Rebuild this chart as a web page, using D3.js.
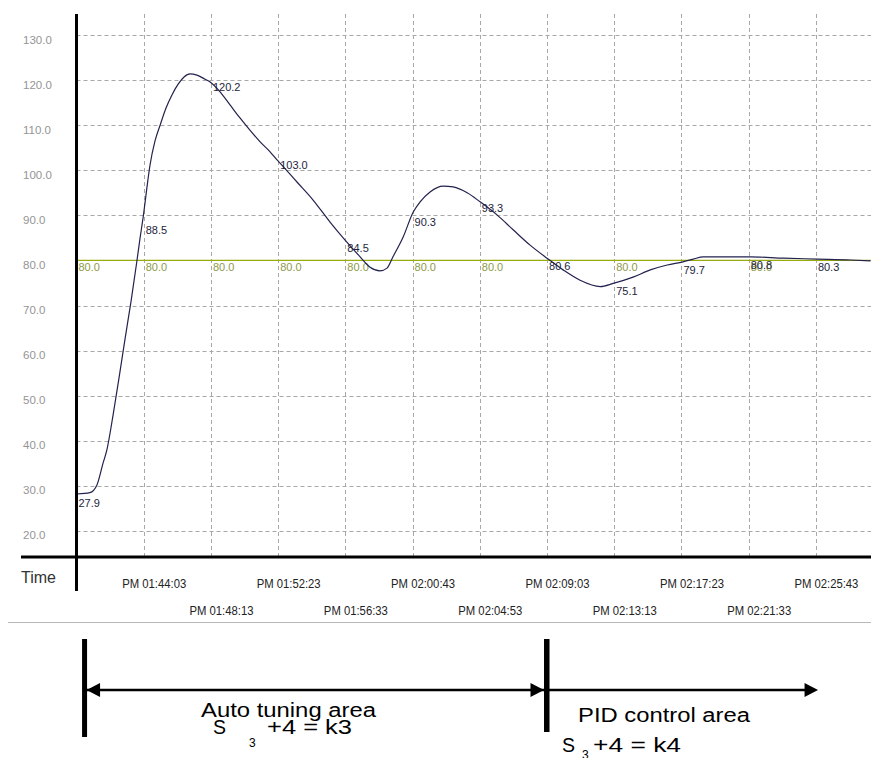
<!DOCTYPE html>
<html><head><meta charset="utf-8">
<script src="https://cdn.jsdelivr.net/npm/d3@7"></script>
<style>
html,body{margin:0;padding:0;background:#fff;}
svg{display:block;font-family:"Liberation Sans",Arial,sans-serif;}
</style></head>
<body>
<svg id="chart" width="871" height="758"></svg>
<script>
// ---------- data ----------
const startClock = "PM 01:39:53";
const tickLabels = ["PM 01:44:03","PM 01:48:13","PM 01:52:23","PM 01:56:33","PM 02:00:43","PM 02:04:53",
                    "PM 02:09:03","PM 02:13:13","PM 02:17:23","PM 02:21:33","PM 02:25:43"];
const yTicks = [20,30,40,50,60,70,80,90,100,110,120,130];
// process value: elapsed seconds from start, value
const pvSeconds = [2,50,76,99,113,136,158,180,203,224,236,250,262,273,292,311,333,355,378,400,422,448,478,497,
  534,571,608,645,683,720,746,757,820,880,943,999,1055,1092,1129,1155,1177,1215,1252,1278,1315,1364,1401,1453,1501,
  1564,1624,1687,1750,1810,1873,1948,1996,2070,2134,2197,2256,2294,2331,2506,2630,2756,2879,2953];
const pvValues = [28.2,28.5,30.2,35.1,38.0,45.7,53.9,62.4,71.0,79.6,84.8,90.5,96.2,101.0,106.5,110.0,113.8,116.7,119.1,120.7,121.4,121.1,120.2,119.6,
  117.4,114.5,111.6,108.9,106.3,104.1,102.3,101.6,97.4,93.4,88.5,84.5,80.8,78.5,77.7,78.3,80.8,85.2,90.7,93.0,95.2,96.5,96.3,95.0,93.0,
  90.1,86.8,83.4,80.5,77.9,75.6,74.2,74.9,76.3,77.9,79.0,79.7,80.3,80.8,80.8,80.5,80.3,80.1,79.9];
// value labels at each grid time (index 0 = start)
const pvLabelValues = [27.9,88.5,120.2,103.0,84.5,90.3,93.3,80.6,75.1,79.7,80.8,80.3];
const svValue = 80.0;
const svLabelIdx = [0,1,2,3,4,5,6,8,10];
// annotation times
const autoStart = "PM 01:40:23";
const pidStart = "PM 02:09:03";
const arrowEnd = "PM 02:25:51";

// ---------- scales ----------
const parse = d3.timeParse("%p %I:%M:%S");
const t0 = parse(startClock);
const addSec = s => new Date(t0.getTime() + s*1000);
const x = d3.scaleTime().domain([t0, addSec(2955)]).range([76.5, 871]);
const y = d3.scaleLinear().domain([14.23, 134.66]).range([557, 14]);

const svg = d3.select("#chart");
const tickTimes = tickLabels.map(parse);
const gridTimes = [t0].concat(tickTimes);

// grid
const grid = svg.append("g").attr("stroke","#a8a8a8").attr("stroke-width",1).attr("stroke-dasharray","4,3");
grid.selectAll("line.h").data(yTicks).join("line").attr("class","h")
  .attr("x1",x.range()[0]).attr("x2",x.range()[1])
  .attr("y1",d=>Math.round(y(d))+0.5).attr("y2",d=>Math.round(y(d))+0.5);
grid.selectAll("line.v").data(tickTimes).join("line").attr("class","v")
  .attr("x1",d=>Math.round(x(d))+0.5).attr("x2",d=>Math.round(x(d))+0.5)
  .attr("y1",y.range()[1]).attr("y2",y.range()[0]);

// setpoint line
svg.append("line").attr("x1",x.range()[0]).attr("x2",x.range()[1])
  .attr("y1",y(svValue)).attr("y2",y(svValue)).attr("stroke","#9aab10").attr("stroke-width",1.3);

// setpoint labels
svg.append("g").selectAll("text").data(svLabelIdx).join("text")
  .attr("x",i=>x(gridTimes[i])+2).attr("y",y(svValue)+11)
  .attr("font-size",11).attr("fill","#8e9a48").text(svValue.toFixed(1));

// PV line
const pts = pvSeconds.map((s,i)=>[addSec(s), pvValues[i]]);
svg.append("path").datum(pts)
  .attr("d", d3.line().x(d=>x(d[0])).y(d=>y(d[1])).curve(d3.curveMonotoneX))
  .attr("fill","none").attr("stroke","#22224e").attr("stroke-width",1.2);

// PV labels
svg.append("g").selectAll("text").data(pvLabelValues).join("text")
  .attr("x",(d,i)=>x(gridTimes[i])+2).attr("y",d=>y(d)+12)
  .attr("font-size",11).attr("fill","#1e1e3c").text(d=>d.toFixed(1));

// y axis labels
const yAxis = svg.append("g").attr("transform","translate(76.5,0)")
  .call(d3.axisLeft(y).tickValues(yTicks).tickFormat(d3.format(".1f")).tickSize(0));
yAxis.select(".domain").remove();
yAxis.selectAll("text").attr("x",-53.5).attr("dy",null).attr("y",8)
  .attr("text-anchor","start").attr("font-size",11.5).attr("fill","#959595")
  .attr("font-family","Liberation Sans, Arial, sans-serif");

// x axis labels
const xAxis = svg.append("g").attr("transform","translate(0,557)")
  .call(d3.axisBottom(x).tickValues(tickTimes).tickFormat((d,i)=>tickLabels[i]).tickSize(0));
xAxis.select(".domain").remove();
xAxis.selectAll("text").attr("dy",null)
  .attr("y",(d,i)=> i%2===0 ? 31 : 58).attr("x",10)
  .attr("font-size",12).attr("fill","#222").attr("textLength",64).attr("lengthAdjust","spacingAndGlyphs")
  .attr("font-family","Liberation Sans, Arial, sans-serif");

// axis lines
svg.append("line").attr("x1",21).attr("x2",871).attr("y1",557).attr("y2",557).attr("stroke","#000").attr("stroke-width",3);
svg.append("line").attr("x1",76.5).attr("x2",76.5).attr("y1",14).attr("y2",591).attr("stroke","#000").attr("stroke-width",3);
svg.append("text").attr("x",21).attr("y",583).attr("font-size",16).attr("fill","#333").text("Time");
// separator
svg.append("line").attr("x1",8).attr("x2",871).attr("y1",622.5).attr("y2",622.5).attr("stroke","#b8b8b8").attr("stroke-width",1);

// ---------- annotations ----------
const xa = x(parse(autoStart)), xp = x(parse(pidStart)), xe = x(parse(arrowEnd));
const ay = 690;
svg.append("rect").attr("x",xa-2.5).attr("y",639).attr("width",5).attr("height",98).attr("fill","#000");
svg.append("rect").attr("x",xp-3).attr("y",639).attr("width",5.5).attr("height",93).attr("fill","#000");
svg.append("line").attr("x1",xa).attr("x2",xe-8).attr("y1",ay).attr("y2",ay).attr("stroke","#000").attr("stroke-width",2.5);
const head = (tip, dir) => `M${tip},${ay} L${tip-dir*13.5},${ay-7} L${tip-dir*13.5},${ay+7} Z`;
svg.append("path").attr("d",head(xa+2,-1)).attr("fill","#000");
svg.append("path").attr("d",head(xp-3,1)).attr("fill","#000");
svg.append("path").attr("d",head(xe,1)).attr("fill","#000");

const fs = 20;
svg.append("text").attr("x",201).attr("y",717).attr("font-size",fs).attr("textLength",175).attr("lengthAdjust","spacingAndGlyphs").text("Auto tuning area");
svg.append("text").attr("x",213).attr("y",734).attr("font-size",fs).attr("textLength",13).attr("lengthAdjust","spacingAndGlyphs").text("S");
svg.append("text").attr("x",249).attr("y",747).attr("font-size",12).text("3");
svg.append("text").attr("x",267).attr("y",734).attr("font-size",fs).attr("textLength",85).attr("lengthAdjust","spacingAndGlyphs").text("+4 = k3");

svg.append("text").attr("x",578).attr("y",722).attr("font-size",fs).attr("textLength",172).attr("lengthAdjust","spacingAndGlyphs").text("PID control area");
svg.append("text").attr("x",562).attr("y",752).attr("font-size",fs).attr("textLength",13).attr("lengthAdjust","spacingAndGlyphs").text("S");
svg.append("text").attr("x",582).attr("y",759).attr("font-size",12).text("3");
svg.append("text").attr("x",593).attr("y",752).attr("font-size",fs).attr("textLength",88).attr("lengthAdjust","spacingAndGlyphs").text("+4 = k4");
</script>
</body></html>
